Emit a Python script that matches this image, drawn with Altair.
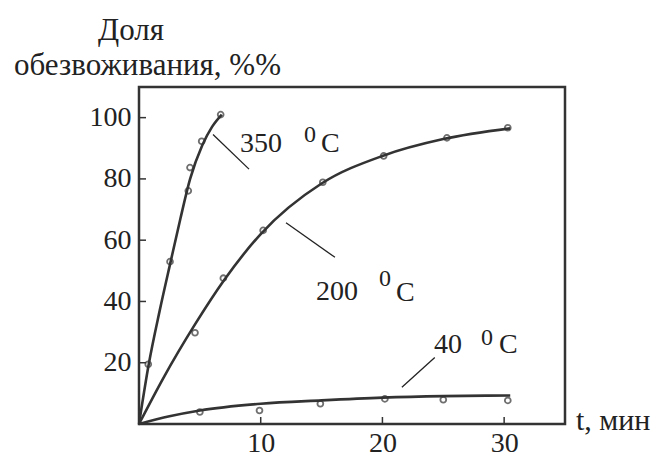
import altair as alt
import pandas as pd

# ---- data ----
# smooth fitted curves
c350_t = [0, 0.8, 1.7, 2.6, 3.4, 4.2, 5.2, 6.0, 6.8]
c350_y = [0, 19.5, 37, 53, 67, 80, 91, 97, 101]
c200_t = [0, 2, 4.6, 7, 10, 15, 20, 25, 30.5]
c200_y = [0, 15, 32.5, 47, 62, 78.5, 87.5, 93, 96.5]
c40_t = [0, 2.5, 5, 10, 15, 20, 25, 30.5]
c40_y = [0, 2.5, 4.4, 6.6, 7.7, 8.6, 9.1, 9.3]
# measured points
p350_t = [0.76, 2.55, 4.05, 4.19, 5.15, 6.71]
p350_y = [19.5, 53.0, 76.1, 83.7, 92.3, 101.0]
p200_t = [4.6, 6.93, 10.2, 15.1, 20.1, 25.3, 30.3]
p200_y = [29.8, 47.6, 63.2, 78.9, 87.5, 93.4, 96.7]
p40_t = [5.0, 9.9, 14.9, 20.2, 25.0, 30.3]
p40_y = [3.9, 4.4, 6.6, 8.2, 7.9, 7.7]

x_ticks = [10, 20, 30]
y_ticks = [20, 40, 60, 80, 100]

# curve labels: number, superscript 0, C
lab_text = ["350", "0", "C", "200", "0", "C", "40", "0", "C"]
lab_x = [8.30, 13.56, 14.95, 14.54, 19.72, 21.12, 24.24, 28.10, 29.58]
lab_y = [88.7, 91.9, 88.7, 40.5, 45.0, 40.1, 23.3, 25.9, 23.3]
lab_size = [28, 24, 28, 28, 24, 28, 28, 24, 28]
# leader lines
lead_x = [6.08, 12.08, 24.3]
lead_y = [94.5, 65.7, 21.7]
lead_x2 = [9.04, 16.1, 21.6]
lead_y2 = [83.2, 54.4, 12.0]

FONT = "Liberation Serif"
INK = "#333333"
H = 337

curves = pd.concat([
    pd.DataFrame({"t": c350_t, "v": c350_y, "s": "350"}),
    pd.DataFrame({"t": c200_t, "v": c200_y, "s": "200"}),
    pd.DataFrame({"t": c40_t, "v": c40_y, "s": "40"}),
])
points = pd.concat([
    pd.DataFrame({"t": p350_t, "v": p350_y}),
    pd.DataFrame({"t": p200_t, "v": p200_y}),
    pd.DataFrame({"t": p40_t, "v": p40_y}),
])
labels = pd.DataFrame({"text": lab_text, "x": lab_x, "y": lab_y, "size": lab_size})
leaders = pd.DataFrame({"x": lead_x, "y": lead_y, "x2": lead_x2, "y2": lead_y2})

xs = alt.Scale(domain=[0, 35], nice=False)
ys = alt.Scale(domain=[0, 110], nice=False)

xaxis = alt.Axis(values=x_ticks, ticks=False, domain=False, grid=False, title=None,
                 labelFont=FONT, labelFontSize=28, labelColor="#222", labelPadding=5,
                 labelFlush=False)
yaxis = alt.Axis(values=y_ticks, ticks=False, domain=False, grid=False, title=None,
                 labelFont=FONT, labelFontSize=28, labelColor="#222", labelPadding=8)

lines = alt.Chart(curves).mark_line(color=INK, strokeWidth=2.6, interpolate="monotone").encode(
    x=alt.X("t:Q", scale=xs, axis=xaxis),
    y=alt.Y("v:Q", scale=ys, axis=yaxis),
    detail="s:N",
)
pts = alt.Chart(points).mark_point(shape="circle", filled=False, color=INK, size=34, strokeWidth=1.8).encode(
    x=alt.X("t:Q", scale=xs),
    y=alt.Y("v:Q", scale=ys),
)
xt = alt.Chart(pd.DataFrame({"t": x_ticks})).mark_rule(color=INK, strokeWidth=1.5).encode(
    x=alt.X("t:Q", scale=xs), y=alt.value(H), y2=alt.value(H - 7)
)
yt = alt.Chart(pd.DataFrame({"v": y_ticks})).mark_rule(color=INK, strokeWidth=1.5).encode(
    y=alt.Y("v:Q", scale=ys), x=alt.value(0), x2=alt.value(7)
)
lead = alt.Chart(leaders).mark_rule(color="#222", strokeWidth=1.3).encode(
    x=alt.X("x:Q", scale=xs), y=alt.Y("y:Q", scale=ys),
    x2="x2:Q", y2="y2:Q",
)
txt = alt.Chart(labels).mark_text(font=FONT, color="#222", align="left", baseline="alphabetic").encode(
    x=alt.X("x:Q", scale=xs), y=alt.Y("y:Q", scale=ys), text="text:N",
    size=alt.Size("size:Q", scale=None, legend=None),
)
title1 = alt.Chart(pd.DataFrame({"s": ["Доля"]})).mark_text(
    font=FONT, fontSize=31, color="#222", align="left", baseline="alphabetic").encode(
    x=alt.value(-41), y=alt.value(-47), text="s:N")
title2 = alt.Chart(pd.DataFrame({"s": ["обезвоживания, %%"]})).mark_text(
    font=FONT, fontSize=31, color="#222", align="left", baseline="alphabetic").encode(
    x=alt.value(-125), y=alt.value(-12), text="s:N")
xtitle = alt.Chart(pd.DataFrame({"s": ["t, мин"]})).mark_text(
    font=FONT, fontSize=30, color="#222", align="left", baseline="middle").encode(
    x=alt.value(437), y=alt.value(H - 3), text="s:N")

chart = alt.layer(lines, pts, xt, yt, lead, txt, title1, title2, xtitle).properties(
    width=426, height=H,
    autosize=alt.AutoSizeParams(type="none"),
    padding={"left": 131, "top": 79, "right": 86, "bottom": 450 - 79 - H},
    background="white",
).configure_view(stroke=INK, strokeWidth=2.5)

chart.save("out.html", embed_options={"renderer": "svg", "actions": False})
